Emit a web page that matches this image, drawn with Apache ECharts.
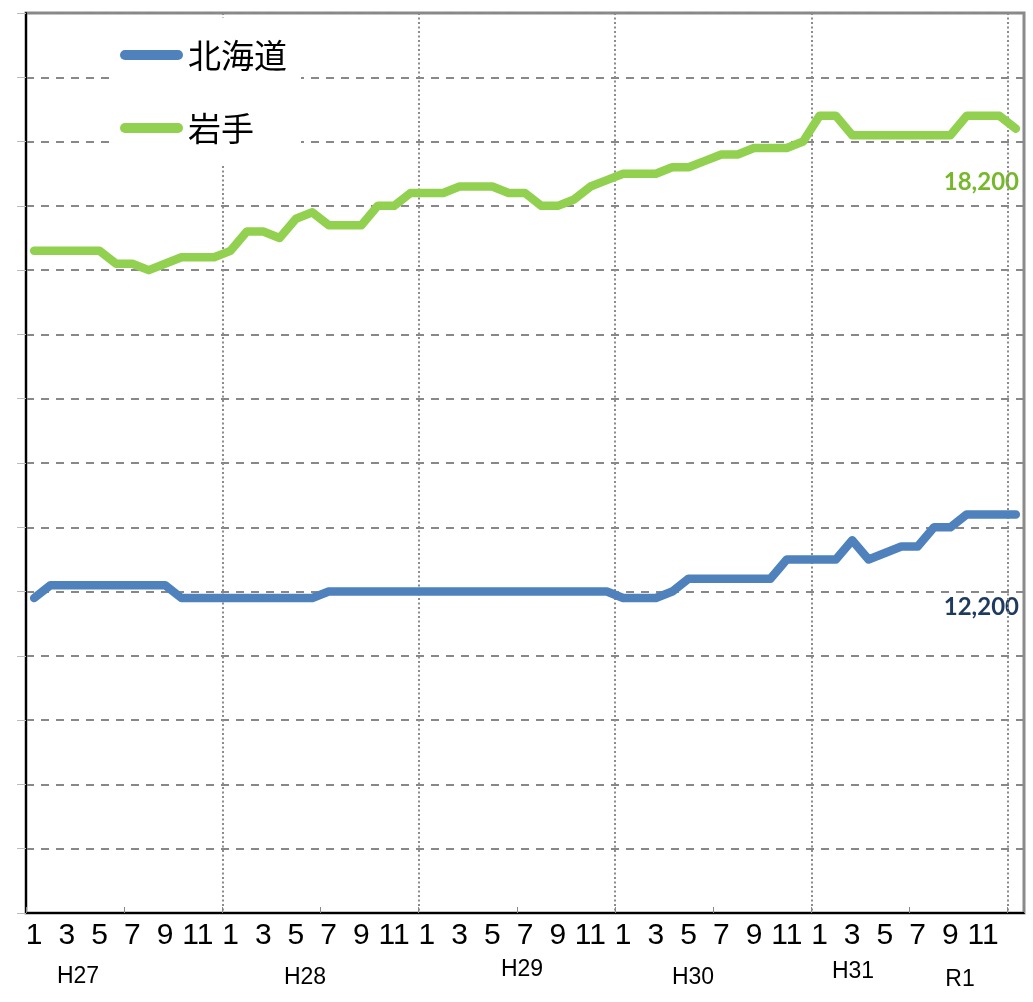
<!DOCTYPE html>
<html style="height: 100%">
<head>
<meta charset="utf-8">
<title>北海道・岩手</title>
</head>
<body style="height: 100%; margin: 0; background: #fff">
<div id="container" style="width:1033px;height:1002px"></div>
<script type="text/javascript" src="https://cdn.jsdelivr.net/npm/echarts@6/dist/echarts.min.js"></script>
<script type="text/javascript">
// 61 months: H27/1 .. R1/12, plus R2/1
var months = [];
for (var y = 0; y < 5; y++) {
    for (var m = 1; m <= 12; m++) months.push(String(m));
}
months.push('1');

var yearLabels = ['H27', 'H28', 'H29', 'H30', 'H31', 'R1'];

var hokkaido = [
    10900, 11100, 11100, 11100, 11100, 11100, 11100, 11100, 11100, 10900, 10900, 10900,
    10900, 10900, 10900, 10900, 10900, 10900, 11000, 11000, 11000, 11000, 11000, 11000,
    11000, 11000, 11000, 11000, 11000, 11000, 11000, 11000, 11000, 11000, 11000, 11000,
    10900, 10900, 10900, 11000, 11200, 11200, 11200, 11200, 11200, 11200, 11500, 11500,
    11500, 11500, 11800, 11500, 11600, 11700, 11700, 12000, 12000, 12200, 12200, 12200,
    12200
];
var iwate = [
    16300, 16300, 16300, 16300, 16300, 16100, 16100, 16000, 16100, 16200, 16200, 16200,
    16300, 16600, 16600, 16500, 16800, 16900, 16700, 16700, 16700, 17000, 17000, 17200,
    17200, 17200, 17300, 17300, 17300, 17200, 17200, 17000, 17000, 17100, 17300, 17400,
    17500, 17500, 17500, 17600, 17600, 17700, 17800, 17800, 17900, 17900, 17900, 18000,
    18400, 18400, 18100, 18100, 18100, 18100, 18100, 18100, 18100, 18400, 18400, 18400,
    18200
];

var dom = document.getElementById('container');
var myChart = echarts.init(dom);
var narrow = '"Liberation Sans Narrow", "Liberation Sans", Arial, sans-serif';
var yearPos = [[78, 977], [305, 978], [522, 970], [693, 978], [853, 972], [960, 980]];

var option = {
    animation: false,
    legend: {
        orient: 'vertical',
        left: 110,
        top: 18,
        padding: [18, 14, 17, 10],
        backgroundColor: '#fff',
        itemWidth: 63,
        itemHeight: 10,
        itemGap: 35,
        icon: 'path://M5,0 H58 A5,5 0 0 1 58,10 H5 A5,5 0 0 1 5,0 Z',
        textStyle: {
            fontSize: 33,
            lineHeight: 38,
            color: '#000',
            fontFamily: '"Noto Sans CJK JP", sans-serif'
        },
        data: ['北海道', '岩手']
    },
    grid: {
        left: 26,
        right: 9,
        top: 13,
        bottom: 89,
        show: true,
        borderColor: '#8a8a8a',
        borderWidth: 3
    },
    xAxis: {
        type: 'category',
        data: months,
        boundaryGap: true,
        axisLine: { lineStyle: { color: '#000', width: 2 } },
        axisTick: {
            show: true,
            inside: true,
            length: 6,
            interval: 5,
            lineStyle: { color: '#888', width: 1 }
        },
        axisLabel: {
            interval: function (i) { return i % 2 === 0 && i < 60; },
            margin: 8,
            fontSize: 30,
            color: '#000',
            fontFamily: narrow
        },
        splitLine: {
            show: true,
            interval: function (i) { return i > 0 && i % 12 === 0; },
            lineStyle: { color: '#8c8c8c', width: 2, type: [2, 2.5] }
        }
    },
    yAxis: {
        type: 'value',
        min: 6000,
        max: 20000,
        interval: 1000,
        axisLine: { show: true, lineStyle: { color: '#000', width: 2 } },
        axisTick: { show: true, length: 9, lineStyle: { color: '#bbb', width: 1 } },
        axisLabel: { show: false },
        splitLine: {
            show: true,
            lineStyle: { color: '#888', width: 2, type: [8, 7] }
        }
    },
    series: [
        {
            name: '北海道',
            type: 'line',
            data: hokkaido,
            showSymbol: false,
            color: '#4f81bd',
            lineStyle: { width: 8.5, color: '#4f81bd', cap: 'round', join: 'round' }
        },
        {
            name: '岩手',
            type: 'line',
            data: iwate,
            showSymbol: false,
            color: '#92d050',
            lineStyle: { width: 8.5, color: '#92d050', cap: 'round', join: 'round' }
        }
    ],
    graphic: yearLabels.map(function (t, i) {
        return {
            type: 'text',
            x: yearPos[i][0],
            y: yearPos[i][1],
            style: {
                text: t,
                fill: '#000',
                font: '23px ' + narrow,
                align: 'center',
                verticalAlign: 'middle'
            }
        };
    }).concat([
        {
            type: 'text', x: 1019, y: 182,
            style: {
                text: '18,200', fill: '#76b82a',
                font: 'bold 24px Lato, "Open Sans", sans-serif',
                align: 'right', verticalAlign: 'middle'
            }
        },
        {
            type: 'text', x: 1019, y: 607,
            style: {
                text: '12,200', fill: '#1f3a5f',
                font: 'bold 24px Lato, "Open Sans", sans-serif',
                align: 'right', verticalAlign: 'middle'
            }
        }
    ])
};
myChart.setOption(option);
</script>
</body>
</html>
